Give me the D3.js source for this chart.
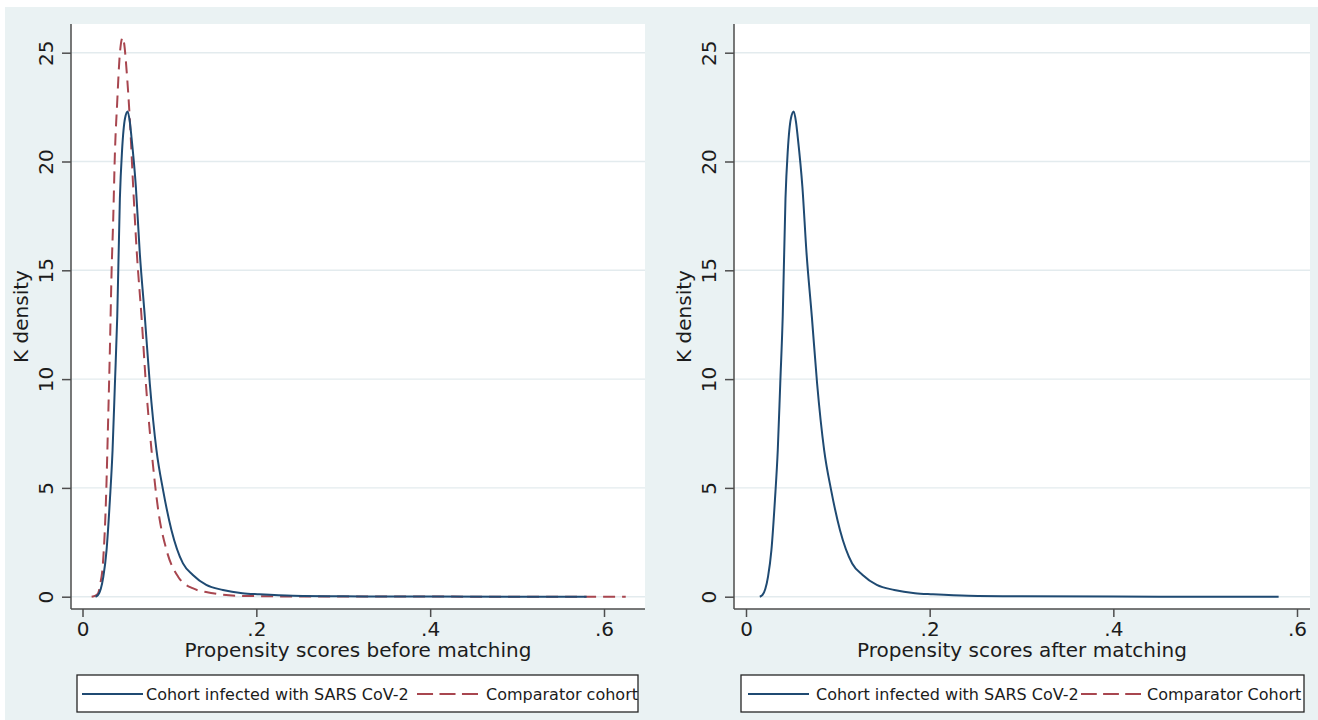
<!DOCTYPE html>
<html>
<head>
<meta charset="utf-8">
<script src="https://cdn.jsdelivr.net/npm/d3@7/dist/d3.min.js"></script>
<style>
    body { margin: 0; background: #ffffff; }
    text { font-family: "DejaVu Sans", sans-serif; fill: #1c1c1c; }
</style>
</head>
<body>
<svg id="chart" width="1318" height="720"></svg>
<script>
// propensity scores / K density
var infectedScore   = [0.015, 0.018, 0.021, 0.024, 0.0277, 0.0315, 0.0346, 0.0373, 0.0400, 0.0430, 0.0455, 0.0490, 0.0520, 0.0545, 0.0564, 0.0614, 0.0659, 0.0717, 0.0774, 0.0851, 0.0927, 0.1023, 0.1156, 0.127, 0.1424, 0.1615, 0.184, 0.2035, 0.242, 0.30, 0.40, 0.58];
var infectedDensity = [0, 0.08, 0.35, 0.92, 2.15, 4.44, 6.74, 9.8, 12.9, 18.3, 20.5, 22.0, 22.3, 21.8, 21.1, 18.84, 15.8, 12.87, 9.81, 6.74, 4.9, 3.07, 1.53, 1.0, 0.54, 0.31, 0.16, 0.11, 0.04, 0.015, 0.005, 0];

var comparatorScore   = [0.0105, 0.015, 0.018, 0.0205, 0.0232, 0.027, 0.0296, 0.0315, 0.0335, 0.0353, 0.0373, 0.0399, 0.043, 0.0462, 0.048, 0.0507, 0.0545, 0.0583, 0.0625, 0.0679, 0.0729, 0.0794, 0.0871, 0.0966, 0.110, 0.1266, 0.150, 0.1806, 0.25, 0.625];
var comparatorDensity = [0, 0.05, 0.16, 0.6, 1.38, 4.44, 8.27, 11.34, 15.0, 17.3, 20.4, 22.7, 24.97, 25.7, 25.4, 24.2, 21.9, 18.84, 15.8, 12.87, 9.81, 6.74, 3.98, 2.15, 0.92, 0.39, 0.16, 0.04, 0.01, 0];

var xTickValues = [0, 0.2, 0.4, 0.6];
var xTickLabels = ["0", ".2", ".4", ".6"];
var yTickValues = [0, 5, 10, 15, 20, 25];

var yTitle = "K density";
var xTitles = ["Propensity scores before matching", "Propensity scores after matching"];
var legendInfected = "Cohort infected with SARS CoV-2";
var legendComparator = ["Comparator cohort", "Comparator Cohort"];

var navy = "#1f4a72",
    maroon = "#a8464f";

var svg = d3.select("#chart");

// graph background
svg.append("rect")
    .attr("x", 5).attr("y", 7)
    .attr("width", 1313).attr("height", 713)
    .attr("fill", "#eaf2f3");

function zip(xs, ys) {
    return xs.map(function (v, i) { return {x: v, y: ys[i]}; });
}

function drawPanel(p) {
    var top = 24, bottom = 609;

    var x = d3.scaleLinear().domain([0, 0.6]).range([p.zeroPx, p.sixPx]);
    var y = d3.scaleLinear().domain([0, 25]).range([596.7, 52.7]);

    var g = svg.append("g");

    // plot region
    g.append("rect")
        .attr("x", p.left).attr("y", top)
        .attr("width", p.right - p.left).attr("height", bottom - top)
        .attr("fill", "#ffffff");

    // grid
    g.selectAll(".grid")
        .data(yTickValues)
        .enter().append("line")
        .attr("class", "grid")
        .attr("x1", p.left).attr("x2", p.right)
        .attr("y1", function (d) { return y(d); })
        .attr("y2", function (d) { return y(d); })
        .attr("stroke", "#e3ebee")
        .attr("stroke-width", 1.4);

    var line = d3.line()
        .x(function (d) { return x(d.x); })
        .y(function (d) { return y(d.y); })
        .curve(d3.curveMonotoneX);

    if (p.showComparator) {
        g.append("path")
            .datum(zip(comparatorScore, comparatorDensity))
            .attr("d", line)
            .attr("fill", "none")
            .attr("stroke", maroon)
            .attr("stroke-width", 2)
            .attr("stroke-dasharray", "12,7");
    }

    g.append("path")
        .datum(zip(infectedScore, infectedDensity))
        .attr("d", line)
        .attr("fill", "none")
        .attr("stroke", navy)
        .attr("stroke-width", 2);

    // y axis
    var yAxis = d3.axisLeft(y)
        .tickValues(yTickValues)
        .tickSize(9)
        .tickFormat(d3.format("d"));

    var ya = g.append("g")
        .attr("transform", "translate(" + p.left + ",0)")
        .call(yAxis);
    ya.select(".domain").remove();
    ya.selectAll(".tick line").attr("stroke", "#4d4d4d").attr("stroke-width", 1.5);
    ya.selectAll(".tick text")
        .attr("x", null)
        .attr("dy", ".35em")
        .attr("transform", "translate(-25.5,0) rotate(-90)")
        .attr("text-anchor", "middle")
        .style("font-size", "20px")
        .style("font-family", "DejaVu Sans")
        .attr("fill", "#1c1c1c");

    // x axis
    var xAxis = d3.axisBottom(x)
        .tickValues(xTickValues)
        .tickSize(8)
        .tickPadding(5)
        .tickFormat(function (d, i) { return xTickLabels[i]; });

    var xa = g.append("g")
        .attr("transform", "translate(0," + bottom + ")")
        .call(xAxis);
    xa.select(".domain").remove();
    xa.selectAll(".tick line").attr("stroke", "#4d4d4d").attr("stroke-width", 1.5);
    xa.selectAll(".tick text")
        .style("font-size", "20px")
        .style("font-family", "DejaVu Sans")
        .attr("fill", "#1c1c1c");

    // axis lines
    g.append("line")
        .attr("x1", p.left).attr("x2", p.left)
        .attr("y1", top).attr("y2", bottom)
        .attr("stroke", "#4d4d4d").attr("stroke-width", 1.5);
    g.append("line")
        .attr("x1", p.left).attr("x2", p.right)
        .attr("y1", bottom).attr("y2", bottom)
        .attr("stroke", "#4d4d4d").attr("stroke-width", 1.5);

    // axis titles
    g.append("text")
        .attr("transform", "translate(" + (p.left - 50) + "," + ((top + bottom) / 2) + ") rotate(-90)")
        .attr("dy", ".35em")
        .attr("text-anchor", "middle")
        .style("font-size", "20px")
        .text(yTitle);

    g.append("text")
        .attr("x", (p.left + p.right) / 2)
        .attr("y", 657)
        .attr("text-anchor", "middle")
        .style("font-size", "20px")
        .text(p.title);

    // legend
    var lg = g.append("g");
    lg.append("rect")
        .attr("x", p.legend.x0).attr("y", 675)
        .attr("width", p.legend.x1 - p.legend.x0).attr("height", 37)
        .attr("fill", "#ffffff")
        .attr("stroke", "#262626")
        .attr("stroke-width", 1.3);
    lg.append("line")
        .attr("x1", p.legend.solid[0]).attr("x2", p.legend.solid[1])
        .attr("y1", 694).attr("y2", 694)
        .attr("stroke", navy).attr("stroke-width", 2);
    lg.append("text")
        .attr("x", p.legend.text1).attr("y", 699.5)
        .style("font-size", "16px")
        .text(legendInfected);

    // three dashes filling the key
    var len = p.legend.dash[1] - p.legend.dash[0],
        dash = len / 3.8,
        gap = dash * 0.4;
    lg.append("line")
        .attr("x1", p.legend.dash[0]).attr("x2", p.legend.dash[1])
        .attr("y1", 694).attr("y2", 694)
        .attr("stroke", maroon).attr("stroke-width", 2)
        .attr("stroke-dasharray", dash + "," + gap);
    lg.append("text")
        .attr("x", p.legend.text2).attr("y", 699.5)
        .style("font-size", "16px")
        .text(p.comparatorLabel);
}

drawPanel({
    left: 71, right: 645, zeroPx: 82.5, sixPx: 604,
    title: xTitles[0], showComparator: true,
    comparatorLabel: legendComparator[0],
    legend: {x0: 77, x1: 638, solid: [82, 143], text1: 146, dash: [417, 478], text2: 486}
});

drawPanel({
    left: 734, right: 1310, zeroPx: 746, sixPx: 1297,
    title: xTitles[1], showComparator: false,
    comparatorLabel: legendComparator[1],
    legend: {x0: 741, x1: 1304, solid: [748, 809], text1: 816, dash: [1081, 1141], text2: 1147}
});
</script>
</body>
</html>
